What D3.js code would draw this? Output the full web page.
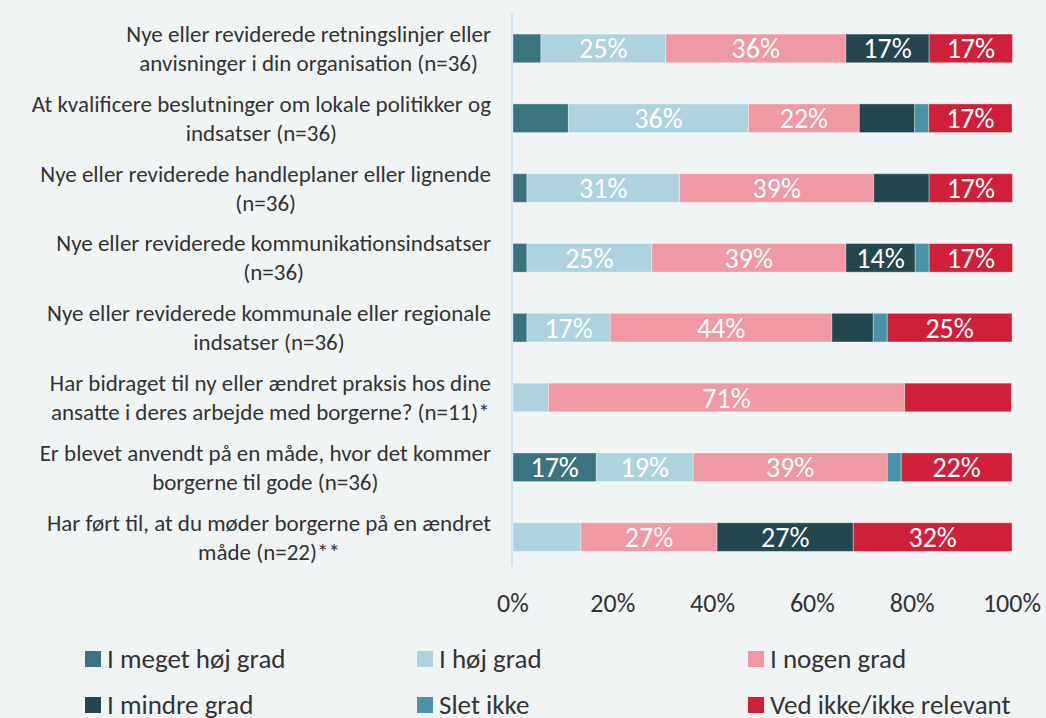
<!DOCTYPE html>
<html>
<head>
<meta charset="utf-8">
<script src="https://cdn.jsdelivr.net/npm/d3@7"></script>
<style>
  body { margin: 0; background: #f1f4f5; }
  svg { display: block; font-family: Carlito, Lato, sans-serif; }
</style>
</head>
<body>
<svg width="1046" height="718"></svg>
<script>
const svg = d3.select("svg");
const width = 1046, height = 718;

// kategorier (linjer pr. label)
const categories = [
  ["Nye eller reviderede retningslinjer eller", "anvisninger i din organisation (n=36)"],
  ["At kvalificere beslutninger om lokale politikker og", "indsatser (n=36)"],
  ["Nye eller reviderede handleplaner eller lignende", "(n=36)"],
  ["Nye eller reviderede kommunikationsindsatser", "(n=36)"],
  ["Nye eller reviderede kommunale eller regionale", "indsatser (n=36)"],
  ["Har bidraget til ny eller ændret praksis hos dine", "ansatte i deres arbejde med borgerne? (n=11)*"],
  ["Er blevet anvendt på en måde, hvor det kommer", "borgerne til gode (n=36)"],
  ["Har ført til, at du møder borgerne på en ændret", "måde (n=22)**"]
];

const seriesNames = ["I meget høj grad", "I høj grad", "I nogen grad", "I mindre grad", "Slet ikke", "Ved ikke/ikke relevant"];
const seriesColors = ["#3b737f", "#add3de", "#f099a5", "#24464f", "#4893a6", "#cf1f39"];

// procent pr. serie, én værdi pr. kategori
const meget = [5.6, 11.1, 2.8, 2.8, 2.8, 0, 16.7, 0];
const hoej = [25, 36.1, 30.6, 25, 16.7, 7.1, 19.4, 13.6];
const nogen = [36.1, 22.2, 38.9, 38.9, 44.4, 71.4, 38.9, 27.3];
const mindre = [16.7, 11.1, 11.1, 13.9, 8.3, 0, 0, 27.3];
const slet = [0, 2.8, 0, 2.8, 2.8, 0, 2.8, 0];
const vedIkke = [16.7, 16.7, 16.7, 16.7, 25, 21.4, 22.2, 31.8];
const values = [meget, hoej, nogen, mindre, slet, vedIkke];

// labels der ikke vises (række, serie)
const hiddenLabels = [[5, 5]];
const labelMin = 13.7;

const xTicks = [0, 20, 40, 60, 80, 100];

const x = d3.scaleLinear().domain([0, 100]).range([513, 1012]);
const y = d3.scaleBand().domain(d3.range(categories.length))
  .range([13.5, 572]).paddingInner(0.59).paddingOuter(0.295);

// stable data
const rows = categories.map((c, i) => {
  const o = { i };
  seriesNames.forEach((s, k) => o[s] = values[k][i]);
  return o;
});
const stack = d3.stack().keys(seriesNames)(rows);

// akse-linje
svg.append("line")
  .attr("x1", 512).attr("x2", 512)
  .attr("y1", 13).attr("y2", 566)
  .attr("stroke", "#d0e6f6").attr("stroke-width", 2);

const layers = svg.selectAll(".layer")
  .data(stack)
  .join("g")
  .attr("class", "layer")
  .attr("fill", (d, k) => seriesColors[k]);

layers.selectAll("rect")
  .data(d => d.filter(p => p[1] - p[0] > 0))
  .join("rect")
  .attr("x", p => x(p[0]))
  .attr("y", p => y(p.data.i))
  .attr("width", p => x(p[1]) - x(p[0]))
  .attr("height", y.bandwidth())
  .attr("stroke", "#ffffff")
  .attr("stroke-opacity", 0.35)
  .attr("stroke-width", 1);

// værdi-labels
stack.forEach((layer, k) => {
  layer.forEach(p => {
    const v = p[1] - p[0];
    const i = p.data.i;
    if (v < labelMin) return;
    if (hiddenLabels.some(h => h[0] === i && h[1] === k)) return;
    svg.append("text")
      .attr("x", (x(p[0]) + x(p[1])) / 2)
      .attr("y", y(i) + y.bandwidth() / 2)
      .attr("dy", "0.36em")
      .attr("text-anchor", "middle")
      .attr("fill", "#ffffff")
      .attr("font-size", 28)
      .text(Math.round(v) + "%");
  });
});

// kategori-labels (centreret blok, højrestillet mod aksen)
const labelRight = 491;
categories.forEach((lines, i) => {
  const t = svg.append("text")
    .attr("fill", "#333333")
    .attr("font-size", 23)
    .attr("text-anchor", "middle");
  const yc = y(i) + y.bandwidth() / 2;
  const spans = lines.map((line, j) => t.append("tspan")
    .attr("y", yc + (j - (lines.length - 1) / 2) * 29)
    .attr("dy", "0.35em")
    .text(line));
  const maxW = d3.max(spans, s => s.node().getComputedTextLength());
  spans.forEach(s => s.attr("x", labelRight - maxW / 2));
});

// x-akse tekst
svg.append("g")
  .selectAll("text")
  .data(xTicks)
  .join("text")
  .attr("x", d => x(d))
  .attr("y", 603)
  .attr("dy", "0.35em")
  .attr("text-anchor", "middle")
  .attr("fill", "#333333")
  .attr("font-size", 26)
  .text(d => d + "%");

// legend
const legendX = [85, 417, 748];
const legendY = [659, 705];
const legend = svg.append("g")
  .selectAll("g")
  .data(seriesNames)
  .join("g")
  .attr("transform", (d, k) => `translate(${legendX[k % 3]},${legendY[Math.floor(k / 3)]})`);

legend.append("rect")
  .attr("x", 0).attr("y", -8)
  .attr("width", 16).attr("height", 16)
  .attr("fill", (d, k) => seriesColors[k]);

legend.append("text")
  .attr("x", 22)
  .attr("dy", "0.35em")
  .attr("fill", "#333333")
  .attr("font-size", 27)
  .text(d => d);
</script>
</body>
</html>
